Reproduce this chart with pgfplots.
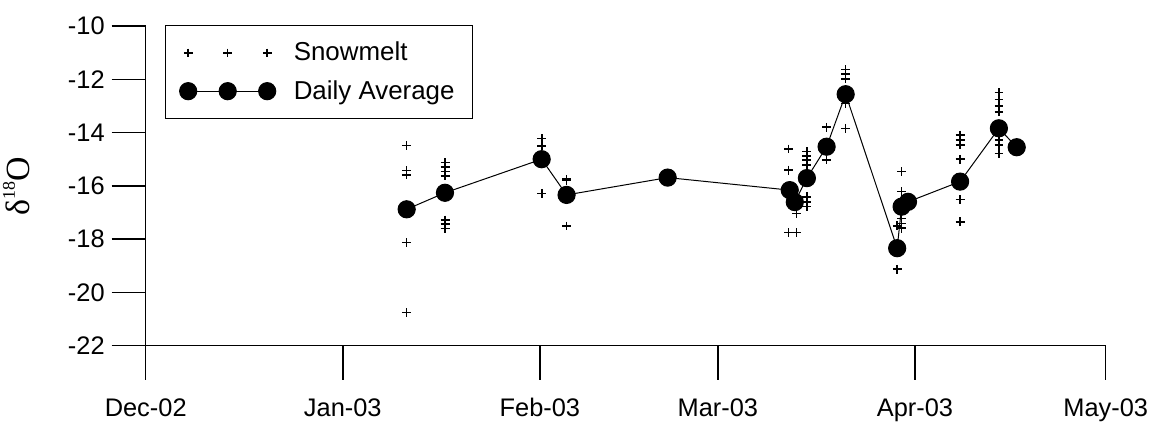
\documentclass[border=0pt]{standalone}
\usepackage{fontspec}
\setmainfont{Liberation Sans}
\newfontfamily\seriffont{Liberation Serif}
\usepackage{pgfplots}
\usepackage{pgfplotstable}
\pgfplotsset{compat=1.18}

% Days counted from 1 Dec 2002
\pgfplotstableread{
day val
41.0 -14.48
41.0 -15.43
41.0 -15.59
41.0 -18.13
41.0 -20.76
47.1 -15.13
47.1 -15.30
47.1 -15.47
47.1 -15.63
47.1 -17.28
47.1 -17.44
47.1 -17.61
62.3 -14.22
62.3 -14.50
62.3 -16.28
66.2 -15.75
66.2 -15.80
66.2 -17.51
101.1 -14.62
101.1 -15.41
101.1 -17.76
102.4 -17.76
102.4 -17.03
104.0 -14.72
104.0 -14.88
104.0 -15.03
104.0 -15.22
104.0 -16.41
104.0 -16.60
104.0 -16.78
107.1 -13.80
107.1 -15.03
110.1 -11.63
110.1 -11.80
110.1 -11.98
110.1 -12.90
110.1 -13.84
118.2 -19.13
118.2 -17.50
118.9 -15.47
118.9 -16.22
118.9 -17.22
118.9 -17.41
118.9 -17.59
128.1 -14.09
128.1 -14.28
128.1 -14.47
128.1 -15.00
128.1 -16.51
128.1 -17.35
134.2 -12.50
134.2 -12.75
134.2 -13.00
134.2 -13.22
134.2 -14.28
134.2 -14.47
134.2 -14.78
}\snowmelt

\pgfplotstableread{
day val
41.05 -16.88
47.07 -16.26
62.28 -15.00
66.2 -16.34
82.1 -15.69
101.3 -16.16
102.1 -16.61
104.0 -15.71
107.1 -14.53
110.1 -12.56
118.2 -18.34
118.9 -16.78
119.9 -16.60
128.1 -15.84
134.2 -13.84
137.0 -14.55
}\dailyavg

\begin{document}
\begin{tikzpicture}
\begin{axis}[
  scale only axis, width=480bp, height=159.85bp,
  at={(0,0)}, anchor=south west,
  xmin=0, xmax=151, ymin=-22, ymax=-10,
  axis x line*=bottom, axis y line*=left,
  axis line style={line width=0.75bp, -},
  xtick={0,31,62,90,121,151},
  xticklabels={Dec-02,Jan-03,Feb-03,Mar-03,Apr-03,May-03},
  ytick={-22,-20,-18,-16,-14,-12,-10},
  yticklabels={-22,-20,-18,-16,-14,-12,-10},
  minor tick num=0,
  tick align=outside, major tick length=17bp,
  tick style={line width=0.75bp, black},
  tick label style={font=\fontsize{12.75}{15}\selectfont},
  xticklabel style={text height=9.2bp, text depth=2.7bp, yshift=-5.5bp},
  ylabel={\seriffont\fontsize{17}{19}\selectfont δ\raisebox{0.42em}{\fontsize{9}{10}\selectfont 18}O},
  ylabel style={at={(axis description cs:-0.135,0.5)}, anchor=center},
  legend style={at={(rel axis cs:0,1)}, anchor=north west, xshift=9.65bp, yshift=0.5bp,
    draw=black, line width=0.6bp, inner xsep=7bp, inner ysep=6.3bp,
    row sep=4.2bp, column sep=7bp, font=\fontsize{13}{15}\selectfont},
  legend cell align=left,
  clip=false,
]
\addplot[only marks, mark=+, mark size=2.2bp, line width=0.75bp, black,
  legend image code/.code={\draw[only marks, mark repeat=1] plot coordinates {(0bp,0bp)(19.75bp,0bp)(39.5bp,0bp)};}]
  table[x=day, y=val] {\snowmelt};
\addlegendentry{Snowmelt}
\addplot[black, line width=0.5bp, mark=*, mark size=4.3bp, mark options={fill=black, line width=0.5bp},
  legend image code/.code={\draw[mark repeat=1] plot coordinates {(0bp,0bp)(19.75bp,0bp)(39.5bp,0bp)};}]
  table[x=day, y=val] {\dailyavg};
\addlegendentry{Daily Average\hspace{12bp}}
\end{axis}
\pgfresetboundingbox
\path (-72.85bp,-38.65bp) rectangle (503.15bp,172.85bp);
\end{tikzpicture}
\end{document}
